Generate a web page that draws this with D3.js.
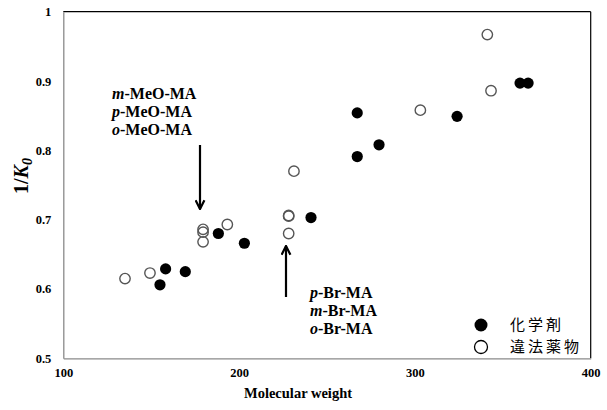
<!DOCTYPE html>
<html>
<head>
<meta charset="utf-8">
<script src="https://cdn.jsdelivr.net/npm/d3@7"></script>
<style>
  body { margin: 0; background: #fff; }
  svg { display: block; }
  .tick text { font-family: "Liberation Serif", serif; font-weight: bold; font-size: 12.5px; fill: #000; }
  .note { font-family: "Liberation Serif", serif; font-weight: bold; font-size: 16px; fill: #000; }
  .legend { font-family: "Noto Sans CJK JP", sans-serif; font-size: 15px; fill: #000; letter-spacing: 3px; }
</style>
</head>
<body>
<svg id="chart"></svg>
<script>
// 化学剤 (reagents), filled markers
const chemMW = [155.0, 158.2, 169.4, 188.2, 203.0, 240.9, 267.2, 267.2, 279.6, 324.0, 359.8, 364.4];
const chemInvK0 = [0.606, 0.629, 0.625, 0.680, 0.666, 0.703, 0.854, 0.791, 0.808, 0.849, 0.897, 0.897];
// 違法薬物 (illegal drugs), open markers
const drugMW = [135.1, 149.3, 179.5, 179.5, 179.5, 193.3, 228.2, 228.2, 228.2, 231.2, 303.1, 341.2, 343.3];
const drugInvK0 = [0.615, 0.623, 0.686, 0.682, 0.668, 0.693, 0.706, 0.705, 0.680, 0.770, 0.858, 0.967, 0.886];

const xTicks = [100, 200, 300, 400];
const yTicks = [0.5, 0.6, 0.7, 0.8, 0.9, 1];
const meoLabels = ["m", "p", "o"];
const brLabels = ["p", "m", "o"];
const legendNames = ["化学剤", "違法薬物"];

const W = 607, H = 410;
const margin = { top: 11.7, right: 16.3, bottom: 51.7, left: 63.3 };
const width = W - margin.left - margin.right;
const height = H - margin.top - margin.bottom;

const svg = d3.select("#chart").attr("width", W).attr("height", H);
const g = svg.append("g").attr("transform", "translate(" + margin.left + "," + margin.top + ")");

const x = d3.scaleLinear().domain([100, 400]).range([0, width]);
const y = d3.scaleLinear().domain([0.5, 1]).range([height, 0]);

// top & right frame in black
g.append("line").attr("x1", 0).attr("x2", width).attr("y1", 0).attr("y2", 0)
  .attr("stroke", "#000").attr("stroke-width", 1.2);
g.append("line").attr("x1", width).attr("x2", width).attr("y1", 0).attr("y2", height)
  .attr("stroke", "#000").attr("stroke-width", 1.2);

const xAxis = g.append("g").attr("transform", "translate(0," + height + ")")
  .call(d3.axisBottom(x).tickValues(xTicks).tickSize(0).tickPadding(10).tickFormat(d3.format("d")));
const yAxis = g.append("g")
  .call(d3.axisLeft(y).tickValues(yTicks).tickSize(0).tickPadding(12).tickFormat(d3.format("")));
[xAxis, yAxis].forEach(a => a.select(".domain").attr("stroke", "#8a8a8a").attr("stroke-width", 1.3));

// axis titles
svg.append("text")
  .attr("x", 298).attr("y", 398)
  .attr("text-anchor", "middle")
  .style("font-family", "'Liberation Serif', serif").style("font-weight", "bold").style("font-size", "14.5px")
  .text("Molecular weight");

const yt = svg.append("text")
  .attr("transform", "translate(28,176) rotate(-90)")
  .attr("text-anchor", "middle")
  .style("font-family", "'Liberation Serif', serif").style("font-weight", "bold").style("font-size", "20px");
yt.append("tspan").text("1/");
yt.append("tspan").style("font-style", "italic").text("K");
yt.append("tspan").style("font-style", "italic").style("font-size", "14px").attr("dy", 4).text("0");

// points
g.selectAll(".drug").data(drugMW).enter().append("circle")
  .attr("class", "drug")
  .attr("cx", d => x(d)).attr("cy", (d, i) => y(drugInvK0[i]))
  .attr("r", 5.2).attr("fill", "none").attr("stroke", "#555").attr("stroke-width", 1.4);

g.selectAll(".chem").data(chemMW).enter().append("circle")
  .attr("class", "chem")
  .attr("cx", d => x(d)).attr("cy", (d, i) => y(chemInvK0[i]))
  .attr("r", 5.6).attr("fill", "#000");

// annotations
svg.append("defs").append("marker")
  .attr("id", "head").attr("viewBox", "0 0 10 10").attr("refX", 9).attr("refY", 5)
  .attr("markerWidth", 5).attr("markerHeight", 5).attr("orient", "auto")
  .append("path").attr("d", "M1,1 L9,5 L1,9").attr("fill", "none").attr("stroke", "#000").attr("stroke-width", 2);

svg.append("line").attr("x1", 200).attr("x2", 200).attr("y1", 145).attr("y2", 209)
  .attr("stroke", "#000").attr("stroke-width", 2.2).attr("marker-end", "url(#head)");
svg.append("line").attr("x1", 286).attr("x2", 286).attr("y1", 297).attr("y2", 246)
  .attr("stroke", "#000").attr("stroke-width", 2.2).attr("marker-end", "url(#head)");

function noteBlock(labels, suffix, x0, y0) {
  labels.forEach((p, i) => {
    const t = svg.append("text").attr("class", "note").attr("x", x0).attr("y", y0 + i * 18);
    t.append("tspan").style("font-style", "italic").text(p);
    t.append("tspan").text(suffix);
  });
}
noteBlock(meoLabels, "-MeO-MA", 112, 99);
noteBlock(brLabels, "-Br-MA", 310, 298);

// legend
const lg = svg.append("g").attr("transform", "translate(481,325)");
legendNames.forEach((name, i) => {
  lg.append("circle").attr("cx", 0).attr("cy", i * 22).attr("r", 6.5)
    .attr("fill", i === 0 ? "#000" : "none").attr("stroke", "#000").attr("stroke-width", i === 0 ? 0 : 1.3);
  lg.append("text").attr("class", "legend").attr("x", 29).attr("y", i * 22).attr("dy", "0.36em").text(name);
});
</script>
</body>
</html>
